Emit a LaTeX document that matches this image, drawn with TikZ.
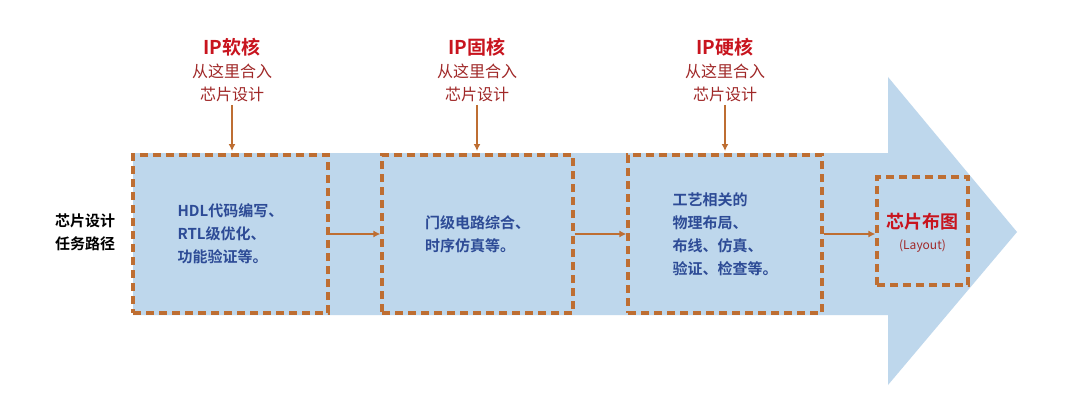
\documentclass[tikz,border=0pt]{standalone}
\usepackage{fontspec}
\setmainfont{Noto Sans CJK SC}
\newfontfamily\cjkb{Noto Sans CJK SC Bold}
\definecolor{arrowfill}{RGB}{190,215,236}
\definecolor{brn}{RGB}{190,110,50}
\definecolor{ttlred}{RGB}{200,20,30}
\definecolor{subred}{RGB}{160,40,40}
\definecolor{inblue}{RGB}{45,75,150}
\begin{document}
\begin{tikzpicture}[x=1pt,y=-1pt,
  bx/.style={draw=brn, dash pattern=on 8pt off 5pt, line width=3.2pt},
  con/.style={draw=brn, line width=2.2pt, -{Latex[length=7pt,width=7pt]}},
  ttl/.style={text=ttlred, font=\cjkb\fontsize{19}{21}\selectfont},
  sub/.style={text=subred, font=\fontsize{16}{23}\selectfont, align=center},
  inner/.style={text=inblue, font=\cjkb\fontsize{15}{23}\selectfont, align=left}]
\usetikzlibrary{arrows.meta}
\useasboundingbox (0,0) rectangle (1080,412);
\fill[white] (0,0) rectangle (1080,412);
\fill[arrowfill] (133,153) -- (888,153) -- (888,77) -- (1017,232) -- (888,385) -- (888,315) -- (133,315) -- cycle;
\node[bx, minimum width=195pt, minimum height=158pt] (b1) at (230.5,234) {};
\node[bx, minimum width=191pt, minimum height=158pt] (b2) at (477.5,234) {};
\node[bx, minimum width=194pt, minimum height=158pt] (b3) at (725,234) {};
\node[bx, minimum width=91pt, minimum height=108pt] (b4) at (922.5,231) {};
\node[inner] at (b1) {HDL代码编写、\\RTL级优化、\\功能验证等。};
\node[inner] at (b2) {门级电路综合、\\时序仿真等。};
\node[inner] at (b3) {工艺相关的\\物理布局、\\布线、仿真、\\验证、检查等。};
\node[text=ttlred, font=\cjkb\fontsize{18}{20}\selectfont] (lt) at (922.5,222) {芯片布图};
\node[text=subred, font=\fontsize{12}{14}\selectfont] (lb) at (922.5,246) {(Layout)};
\node[font=\cjkb\fontsize{15}{23}\selectfont, align=center] (side) at (85,232) {芯片设计\\任务路径};
\foreach \n/\x/\t in {1/232/IP软核,2/477/IP固核,3/725/IP硬核}{
  \node[ttl] (t\n) at (\x,47) {\t};
  \node[sub, anchor=north] (s\n) at (\x,60) {从这里合入\\芯片设计};
  \draw[con] (s\n.south) -- (\x,151);
}
\draw[con] (b1.east) -- (b2.west);
\draw[con] (b2.east) -- (b3.west);
\draw[con] (b3.east) -- (b3.east -| b4.west);
\end{tikzpicture}
\end{document}
